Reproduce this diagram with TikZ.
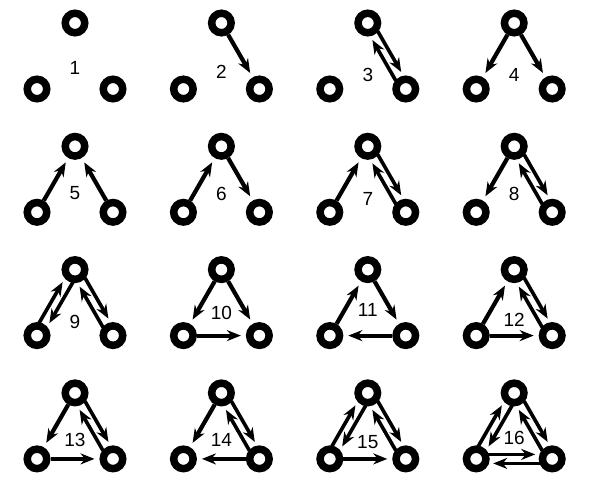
\documentclass[tikz,border=0pt]{standalone}
\usepackage{fontspec}
\setmainfont{Liberation Sans}
\usepackage{tikz}
\usetikzlibrary{arrows.meta,calc,positioning}

\tikzset{
  vtx/.style={circle,draw,line width=7.5pt,minimum size=19.5pt,inner sep=0pt},
  tip/.style={-{Stealth[length=14pt,width=11pt,inset=4.5pt]}},
  edge/.style={tip,line width=4.2pt,shorten >=5pt},
  pairedge/.style={tip,line width=3.6pt,shorten <=12pt,shorten >=17pt},
  num/.style={font=\fontsize{19}{19}\selectfont}
}
\newcommand{\tie}[2]{\draw[edge] (#1) -- (#2);}
\newcommand{\mutual}[2]{%
  \draw[pairedge] ($(#1)!4.5pt!90:(#2)$) -- ($(#2)!4.5pt!-90:(#1)$);
  \draw[pairedge] ($(#2)!4.5pt!90:(#1)$) -- ($(#1)!4.5pt!-90:(#2)$);}

\begin{document}
\begin{tikzpicture}[x=1pt,y=-1pt]
\useasboundingbox (0,0) rectangle (597,488);
\foreach \n/\dy in {1/45,2/49,3/52,4/52,5/47,6/48,7/53,8/48,9/52,10/43,11/40,12/50,13/47,14/47,15/49,16/45}{
  \pgfmathtruncatemacro{\col}{mod(\n-1,4)}
  \pgfmathtruncatemacro{\row}{(\n-1)/4}
  \coordinate (c\n) at ({75+146.4*\col},{23+123.3*\row});
  \node[vtx] (t\n) at (c\n) {};
  \node[vtx] (l\n) at ($(c\n)+(-38,66)$) {};
  \node[vtx] (r\n) at ($(c\n)+(38,66)$) {};
  \node[num] (n\n) at ($(c\n)+(0,\dy)$) {\n};
}
\tie{t2}{r2}
\mutual{t3}{r3}
\tie{t4}{l4} \tie{t4}{r4}
\tie{l5}{t5} \tie{r5}{t5}
\tie{l6}{t6} \tie{t6}{r6}
\tie{l7}{t7} \mutual{t7}{r7}
\tie{t8}{l8} \mutual{t8}{r8}
\mutual{l9}{t9} \mutual{t9}{r9}
\tie{t10}{l10} \tie{t10}{r10} \tie{l10}{r10}
\tie{l11}{t11} \tie{t11}{r11} \tie{r11}{l11}
\tie{l12}{t12} \mutual{t12}{r12} \tie{l12}{r12}
\tie{t13}{l13} \mutual{t13}{r13} \tie{l13}{r13}
\tie{t14}{l14} \mutual{t14}{r14} \tie{r14}{l14}
\mutual{l15}{t15} \mutual{t15}{r15} \tie{l15}{r15}
\mutual{l16}{t16} \mutual{t16}{r16} \mutual{l16}{r16}
\end{tikzpicture}
\end{document}
